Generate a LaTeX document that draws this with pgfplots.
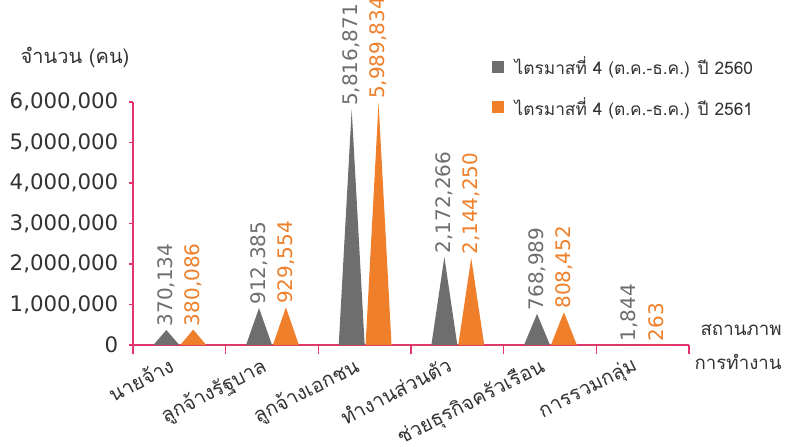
\documentclass[border=0pt]{standalone}
\usepackage{pgfplots}
\pgfplotsset{compat=1.18}
\usepackage{fontspec}
\setmainfont{DejaVu Sans}
\newfontfamily\thai[Script=Thai]{Loma}
\definecolor{cgray}{HTML}{6E6E6E}
\definecolor{corange}{HTML}{EF7F2A}
\definecolor{axispink}{HTML}{E5336B}
\definecolor{txt}{HTML}{333333}
\begin{document}
\begin{tikzpicture}
\useasboundingbox (-99.75pt,-75.75pt) rectangle (491.25pt,258.75pt);
\begin{axis}[
  at={(0,0)}, anchor=south west,
  scale only axis, width=417pt, height=182.25pt,
  xmin=-0.5, xmax=5.5, ymin=0, ymax=6000000,
  axis lines=left,
  axis line style={-, draw=axispink, line width=1.1pt},
  clip=false,
  tick align=outside,
  major tick length=3pt,
  tick style={draw=axispink, line width=0.9pt},
  xtick={0,1,2,3,4,5},
  major x tick style={draw=none},
  xticklabels={นายจ้าง,ลูกจ้างรัฐบาล,ลูกจ้างเอกชน,ทำงานส่วนตัว,ช่วยธุรกิจครัวเรือน,การรวมกลุ่ม},
  xticklabel style={font=\thai\fontsize{15}{17}\selectfont, text=txt, rotate=27, anchor=north east, inner sep=1pt, yshift=0.5pt, xshift=-9pt},
  extra x ticks={-0.5,0.5,1.5,2.5,3.5,4.5,5.5},
  extra x tick labels={},
  extra x tick style={major tick length=7pt, major x tick style={draw=axispink, line width=0.9pt}},
  ytick={0,1000000,2000000,3000000,4000000,5000000,6000000},
  scaled y ticks=false,
  yticklabel style={font=\fontsize{16}{18}\selectfont, text=txt, xshift=-4.5pt},
  /pgf/number format/.cd, fixed, 1000 sep={,}, assume math mode=true, /pgfplots/.cd,
  legend style={at={(0.645,1.197)}, anchor=north west, draw=none, fill=none,
    font=\thai\fontsize{13}{16}\selectfont, text=txt, row sep=11.5pt, column sep=6pt, inner sep=0pt},
  legend cell align=left,
  legend image code/.code={\fill[#1] (0pt,-4.5pt) rectangle (9pt,4.5pt);},
  nodes near coords style={rotate=90, anchor=west, font=\fontsize{15}{17}\selectfont, inner sep=1pt, xshift=1.5pt},
]
% triangles
\addplot[fill=cgray, draw=none] coordinates {
 (-0.28,0) (-0.14,370134) (0,0)
 (0.72,0) (0.86,912385) (1,0)
 (1.72,0) (1.86,5816871) (2,0)
 (2.72,0) (2.86,2172266) (3,0)
 (3.72,0) (3.86,768989) (4,0)
 (4.72,0) (4.86,1844) (5,0)
} \closedcycle;
\addlegendentry{ไตรมาสที่ 4 (ต.ค.-ธ.ค.) ปี 2560}
\addplot[fill=corange, draw=none] coordinates {
 (0.01,0) (0.15,380086) (0.29,0)
 (1.01,0) (1.15,929554) (1.29,0)
 (2.01,0) (2.15,5989834) (2.29,0)
 (3.01,0) (3.15,2144250) (3.29,0)
 (4.01,0) (4.15,808452) (4.29,0)
 (5.01,0) (5.15,263) (5.29,0)
} \closedcycle;
\addlegendentry{ไตรมาสที่ 4 (ต.ค.-ธ.ค.) ปี 2561}
% labels
\addplot[draw=none, mark=none, forget plot, nodes near coords, every node near coord/.append style={text=cgray}] coordinates {
 (-0.14,370134) (0.86,912385) (1.86,5816871) (2.86,2172266) (3.86,768989) (4.86,1844)
};
\addplot[draw=none, mark=none, forget plot, nodes near coords, every node near coord/.append style={text=corange}] coordinates {
 (0.15,380086) (1.15,929554) (2.15,5989834) (3.15,2144250) (4.15,808452) (5.15,263)
};
\end{axis}
\node[font=\thai\fontsize{15}{17}\selectfont, text=txt] at (-43.5pt,216pt) {จำนวน (คน)};
\node[font=\thai\fontsize{14}{16}\selectfont, text=txt, anchor=east] at (490pt,11.25pt) {สถานภาพ};
\node[font=\thai\fontsize{14}{16}\selectfont, text=txt, anchor=east] at (490pt,-12.75pt) {การทำงาน};
\end{tikzpicture}
\end{document}
